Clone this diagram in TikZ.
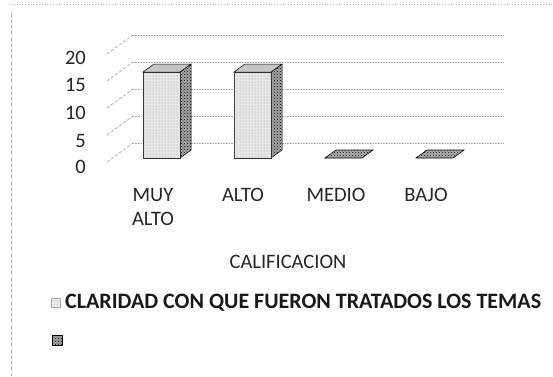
\documentclass[tikz,border=0pt]{standalone}
\usepackage{fontspec}
\setmainfont{Carlito}
\usetikzlibrary{patterns}
\tikzset{
  grid/.style={gray!70, densely dotted, line width=0.6pt},
  diag/.style={gray!80, dashed, dash pattern=on 3pt off 2pt, line width=0.6pt},
  front/.style={fill=gray!18, draw=black!80, line width=0.5pt},
  side/.style={fill=gray!70, draw=black, line width=0.5pt},
  topf/.style={fill=gray!45, draw=black, line width=0.5pt},
  axlab/.style={anchor=east, inner sep=0pt, font=\fontsize{20.5}{22}\selectfont, text=black!85},
  catlab/.style={inner sep=0pt, font=\fontsize{20.5}{24}\selectfont, text=black!85, align=center},
  border/.style={gray!60, dashed, dash pattern=on 4pt off 2pt, line width=1pt},
}
\newcommand\cbar[3]{%
  % #1 name, #2 left x, #3 height px
  \coordinate (#1fl) at (#2,158);
  \coordinate (#1fr) at (#2+37,158);
  \coordinate (#1tl) at (#2,158-#3);
  \coordinate (#1tr) at (#2+37,158-#3);
  \coordinate (#1br) at (#2+48,150);
  \coordinate (#1btr) at (#2+48,150-#3);
  \coordinate (#1btl) at (#2+11,150-#3);
  \filldraw[side] (#1fr) -- (#1br) -- (#1btr) -- (#1tr) -- cycle;
  \fill[pattern=crosshatch dots, pattern color=black] (#1fr) -- (#1br) -- (#1btr) -- (#1tr) -- cycle;
  \filldraw[front] (#1fl) rectangle (#1tr);
  \fill[pattern=dots, pattern color=gray!90] (#1fl) rectangle (#1tr);
  \filldraw[topf] (#1tl) -- (#1tr) -- (#1btr) -- (#1btl) -- cycle;
}
\newcommand\cflat[2]{%
  \coordinate (#1a) at (#2,158);
  \coordinate (#1b) at (#2+37,158);
  \coordinate (#1c) at (#2+48,150);
  \coordinate (#1d) at (#2+11,150);
  \filldraw[fill=gray!60, draw=black, line width=0.6pt] (#1a) -- (#1b) -- (#1c) -- (#1d) -- cycle;
  \fill[pattern=crosshatch dots, pattern color=black] (#1a) -- (#1b) -- (#1c) -- (#1d) -- cycle;
}
\begin{document}
\begin{tikzpicture}[x=1pt,y=-1pt]
\useasboundingbox (0,0) rectangle (553,376);
\fill[white] (0,0) rectangle (553,376);
% frame
\draw[gray!60, dotted, line width=0.8pt] (11,4) -- (553,4);
\draw[border] (11,13) -- (11,376);
% grid
\foreach \v/\y in {0/143,5/116,10/89,15/62,20/35}{
  \coordinate (gb\v) at (133,\y);
  \coordinate (ge\v) at (503,\y);
  \coordinate (gf\v) at (107,\y+19);
  \draw[grid] (gb\v) -- (ge\v);
  \draw[diag] (gf\v) -- (gb\v);
}
% axis labels
\node[axlab] (l20) at (86,58) {20};
\node[axlab] (l15) at (86,85) {15};
\node[axlab] (l10) at (86,113) {10};
\node[axlab] (l5)  at (86,141) {5};
\node[axlab] (l0)  at (86,167) {0};
% bars
\cbar{b1}{143}{86}
\cbar{b2}{234}{86}
\cflat{b3}{325}
\cflat{b4}{416}
% categories
\node[catlab, anchor=north] (c1) at (153,188) {MUY\\ALTO};
\node[catlab, anchor=north] (c2) at (243,188) {ALTO};
\node[catlab, anchor=north] (c3) at (336,188) {MEDIO};
\node[catlab, anchor=north] (c4) at (426,188) {BAJO};
\node[catlab] (title) at (288,262) {CALIFICACION};
% legend
\filldraw[fill=gray!15, draw=gray!60, line width=0.4pt] (51,298) rectangle (60,307);
\fill[pattern=dots, pattern color=gray] (51,298) rectangle (60,307);
\node[inner sep=0pt, anchor=west, font=\fontsize{22}{24}\selectfont\bfseries, text=black!90] (leg) at (65,303) {CLARIDAD CON QUE FUERON TRATADOS LOS TEMAS};
\filldraw[fill=gray!70, draw=black, line width=0.5pt] (52,335) rectangle (62,345);
\fill[pattern=crosshatch dots, pattern color=black] (52,335) rectangle (62,345);
\end{tikzpicture}
\end{document}
